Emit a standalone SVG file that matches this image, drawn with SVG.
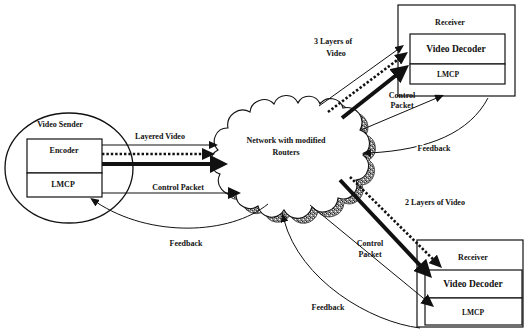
<svg xmlns="http://www.w3.org/2000/svg" width="526" height="331" viewBox="0 0 526 331">
  <style>
    .t { font-family: "Liberation Serif", "Times New Roman", serif; font-weight: bold; font-size: 8px; text-anchor: middle; fill: #111; }
    .big { font-size: 9.5px; }
    .small { font-size: 7.5px; }
    .knock { stroke: #fff; stroke-width: 3; paint-order: stroke; stroke-linejoin: round; }
    .box { fill: #fff; stroke: #111; stroke-width: 1.2; }
    .thin { fill: none; stroke: #111; stroke-width: 1; }
    .dots { fill: none; stroke: #111; stroke-width: 2.6; stroke-dasharray: 2.4 2; }
    .thick { fill: none; stroke: #111; stroke-width: 4; }
  </style>
  <defs>
    <marker id="ahL" markerUnits="userSpaceOnUse" viewBox="0 0 18 18" markerWidth="18" markerHeight="18" refX="4" refY="9" orient="auto">
      <path d="M0,0 L18,9 L0,18 Z" fill="#111"/>
    </marker>
    <marker id="ahM" markerUnits="userSpaceOnUse" viewBox="0 0 13 12" markerWidth="13" markerHeight="12" refX="3" refY="6" orient="auto">
      <path d="M0,0 L13,6 L0,12 Z" fill="#111"/>
    </marker>
    <marker id="ahS" markerUnits="userSpaceOnUse" viewBox="0 0 9 8" markerWidth="9" markerHeight="8" refX="2" refY="4" orient="auto">
      <path d="M0,0 L9,4 L0,8 Z" fill="#111"/>
    </marker>
    <pattern id="grain" patternUnits="userSpaceOnUse" width="4" height="4">
      <rect width="4" height="4" fill="#8f8f8f"/>
      <rect x="0" y="0" width="1" height="1" fill="#222"/>
      <rect x="2" y="1" width="1" height="1" fill="#444"/>
      <rect x="1" y="2" width="1" height="1" fill="#fff"/>
      <rect x="3" y="3" width="1" height="1" fill="#333"/>
      <rect x="3" y="0" width="1" height="1" fill="#eee"/>
    </pattern>
    <path id="cloudShape" d="M218,150 A13,13 0 0 1 228,128 A15,15 0 0 1 250,112 A14,14 0 0 1 274,104 A13,13 0 0 1 298,103 A12,12 0 0 1 320,104 A13,13 0 0 1 343,108 A15,15 0 0 1 360,130 A14,14 0 0 1 363,155 A14,14 0 0 1 356,180 A14,14 0 0 1 338,198 A15,15 0 0 1 312,207 A15,15 0 0 1 284,210 A14,14 0 0 1 258,206 A14,14 0 0 1 236,194 A14,14 0 0 1 220,174 A13,13 0 0 1 218,150 Z"/>
  </defs>

  <rect width="526" height="331" fill="#fff"/>

  <!-- network cloud with its grainy shadow -->
  <g id="network">
    <use href="#cloudShape" transform="translate(6,5)" fill="url(#grain)" stroke="#333" stroke-width="0.8"/>
    <use href="#cloudShape" fill="#fff" stroke="#111" stroke-width="1.1"/>
    <text class="t" x="286" y="143">Network with modified</text>
    <text class="t" x="286" y="155">Routers</text>
  </g>

  <!-- video sender -->
  <g id="sender">
    <ellipse cx="69" cy="168" rx="64" ry="55" fill="none" stroke="#111" stroke-width="1.3"/>
    <text class="t" x="60" y="127">Video Sender</text>
    <rect class="box" x="27" y="139" width="75" height="34"/>
    <rect class="box" x="27" y="173" width="75" height="24"/>
    <text class="t" x="64" y="153">Encoder</text>
    <text class="t" x="63" y="187">LMCP</text>
  </g>

  <!-- receiver (three layers) -->
  <g id="receiver1">
    <rect class="box" x="398" y="5" width="117" height="91"/>
    <text class="t" x="450" y="25">Receiver</text>
    <rect class="box" x="410" y="34" width="95" height="30"/>
    <rect class="box" x="410" y="64" width="95" height="20"/>
    <text class="t big" x="456" y="52">Video Decoder</text>
    <text class="t small" x="448" y="77">LMCP</text>
  </g>

  <!-- receiver (two layers) -->
  <g id="receiver2">
    <rect class="box" x="417" y="240" width="106" height="87"/>
    <text class="t" x="473" y="260">Receiver</text>
    <rect class="box" x="425" y="270" width="97" height="28"/>
    <rect class="box" x="425" y="298" width="97" height="27"/>
    <text class="t big" x="473" y="287">Video Decoder</text>
    <text class="t small" x="473" y="315">LMCP</text>
  </g>

  <!-- connectors -->
  <g id="connectors">
    <!-- sender to network -->
    <path class="thin" d="M102,145 L211,145" marker-end="url(#ahS)"/>
    <path class="dots" d="M102,154 L205,154" marker-end="url(#ahM)"/>
    <path class="thick" d="M102,164 L214,164" marker-end="url(#ahL)"/>
    <path class="thin" d="M102,193 L231,193" marker-end="url(#ahM)"/>
    <path class="thin" d="M268,204 C230,235 150,238 96,202" marker-end="url(#ahS)"/>

    <!-- network to receiver 1 -->
    <path class="thin" d="M319,106 L398.3,49.1" marker-end="url(#ahS)"/>
    <path class="dots" d="M328,112 L400,58" marker-end="url(#ahM)"/>
    <path class="thick" d="M342,118 L398,73.7" marker-end="url(#ahL)"/>
    <path class="thin" d="M361,130 L437.5,97.7" marker-end="url(#ahS)"/>
    <path class="thin" d="M488,98 C470,132 430,150 369,153" marker-end="url(#ahS)"/>

    <!-- network to receiver 2 -->
    <path class="dots" d="M350,177 L434.9,261" marker-end="url(#ahM)"/>
    <path class="thick" d="M340,180 L422.4,267.8" marker-end="url(#ahL)"/>
    <path class="thin" d="M310,205 L426.3,300.6" marker-end="url(#ahM)"/>
    <path class="thin" d="M420,328 C370,322 300,280 284,220" marker-end="url(#ahS)"/>

    <!-- connector labels -->
    <text class="t" x="160" y="139">Layered Video</text>
    <text class="t" x="178" y="190">Control Packet</text>
    <text class="t" x="186" y="246">Feedback</text>
    <text class="t" x="333" y="44">3 Layers of</text>
    <text class="t" x="336" y="56">Video</text>
    <text class="t" x="402" y="98">Control</text>
    <text class="t" x="402" y="108">Packet</text>
    <text class="t knock" x="434" y="151">Feedback</text>
    <text class="t" x="435" y="205">2 Layers of Video</text>
    <text class="t" x="370" y="246">Control</text>
    <text class="t" x="370" y="257">Packet</text>
    <text class="t" x="328" y="310">Feedback</text>
  </g>
</svg>
